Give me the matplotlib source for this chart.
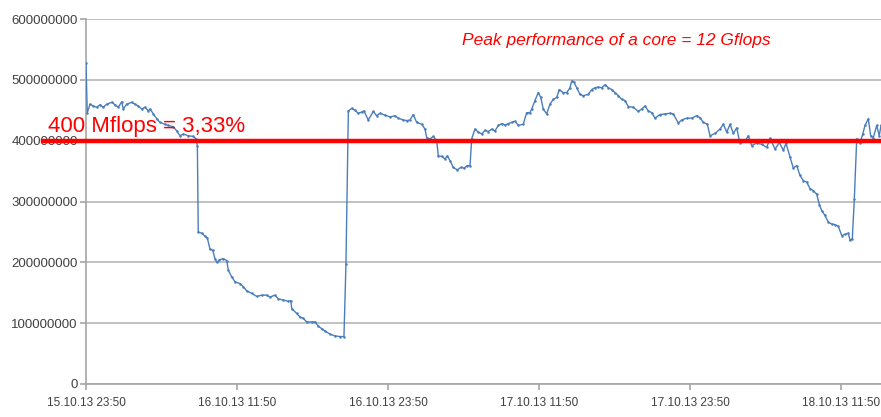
import matplotlib.pyplot as plt
import numpy as np

# hours after 15.10.13 23:50, flops in Mflops
hours = [
    0.00, 0.10, 0.32, 0.58, 0.85, 1.11, 1.37, 1.65, 2.04, 2.30, 2.57, 2.84, 2.96, 3.23,
    3.63, 3.89, 4.16, 4.43, 4.69, 4.95, 5.09, 5.35, 5.62, 5.88, 6.28, 6.54, 6.94, 7.21,
    7.47, 7.73, 8.13, 8.53, 8.74, 8.85,
    8.92, 9.19, 9.46, 9.64, 9.85, 10.07, 10.25, 10.39, 10.59, 10.91, 11.18, 11.31, 11.58,
    11.84, 12.24, 12.50, 12.77, 13.17, 13.57, 13.96, 14.36, 14.62, 15.02, 15.28, 15.68,
    16.08, 16.27, 16.35, 16.74, 17.01, 17.27, 17.54, 17.94, 18.20, 18.46, 18.73, 19.00,
    19.39, 19.79, 20.19, 20.50, 20.66,
    20.85, 21.12, 21.38, 21.64, 21.91, 22.09, 22.43, 22.83, 23.10, 23.36, 23.76, 24.16,
    24.56, 24.82, 25.22, 25.49, 25.75, 26.01, 26.28, 26.68, 26.94, 27.08, 27.34, 27.60,
    27.87, 28.00, 28.27, 28.53, 28.71, 28.93, 29.19, 29.51, 29.78, 30.04, 30.30, 30.52,
    30.65, 30.91, 31.18, 31.45, 31.71, 31.97, 32.24, 32.50, 32.77, 33.04, 33.30, 33.56,
    33.83, 34.09, 34.36, 34.75, 35.02, 35.28, 35.42, 35.68, 35.94, 36.14, 36.34, 36.61,
    36.87, 37.14, 37.41, 37.61, 37.93, 38.20, 38.46, 38.60, 38.78, 39.00, 39.26, 39.52,
    39.92, 40.19, 40.45, 40.71, 40.98, 41.25, 41.51, 41.78, 42.04, 42.30, 42.57,
    42.83, 43.10, 43.49, 43.89, 44.16, 44.42, 44.69, 44.96, 45.22, 45.62, 46.01, 46.41,
    46.67, 47.07, 47.34, 47.74, 48.13, 48.53, 48.79, 49.06, 49.38, 49.59, 49.99, 50.38,
    50.65, 50.92, 51.18, 51.44, 51.71, 51.97, 52.37, 52.63, 52.90, 53.30, 53.70, 54.10,
    54.36, 54.76, 55.10, 55.42, 55.63, 55.95, 56.21, 56.48, 56.74, 57.01, 57.27, 57.54,
    57.80, 58.07, 58.28, 58.47, 58.73, 58.99, 59.26, 59.52, 59.79, 60.06, 60.32, 60.58,
    60.72, 60.90, 61.06, 61.25, 61.51, 61.73, 61.91, 62.17, 62.36, 62.57, 62.84, 63.04,
    63.18,
]
mflops = [
    528, 446, 460, 457, 455, 459, 455, 460, 463, 459, 455, 464, 452, 460,
    463, 460, 457, 452, 455, 449, 452, 444, 436, 430, 427, 425, 423, 416,
    408, 411, 408, 407, 403, 392,
    250, 248, 243, 240, 222, 220, 206, 200, 204, 206, 203, 187, 176,
    168, 165, 160, 153, 149, 144, 146, 146, 143, 146, 140, 138,
    136, 137, 124, 116, 110, 108, 102, 102, 102, 95, 91, 87,
    82, 79, 78, 78, 198,
    449, 453, 450, 445, 447, 449, 434, 448, 441, 445, 442, 439,
    441, 437, 434, 433, 434, 443, 430, 427, 419, 405, 403, 407,
    400, 375, 374, 370, 375, 367, 356, 352, 356, 355, 359, 359,
    403, 419, 414, 411, 417, 415, 419, 416, 425, 428, 426, 428,
    430, 432, 425, 427, 446, 446, 452, 466, 479, 471, 452, 444,
    460, 468, 471, 484, 479, 479, 487, 498, 496, 487, 476, 474,
    476, 484, 487, 488, 487, 492, 487, 484, 479, 474, 468,
    466, 456, 455, 448, 452, 457, 449, 446, 437, 443, 444, 445,
    444, 429, 434, 437, 437, 441, 438, 430, 427, 408, 412, 419,
    427, 414, 427, 412, 421, 396, 399, 408, 392, 396, 394, 389,
    404, 386, 397, 384, 396, 373, 355, 359, 343, 334, 332, 321,
    318, 312, 295, 285, 277, 266, 263, 262, 259, 244, 246, 248,
    236, 239, 304, 403, 396, 411, 425, 436, 408, 405, 425, 408,
    425,
]

tick_hours = [0, 12, 24, 36, 48, 60]
tick_labels = ["15.10.13 23:50", "16.10.13 11:50", "16.10.13 23:50",
               "17.10.13 11:50", "17.10.13 23:50", "18.10.13 11:50"]
y_ticks = [0, 100000000, 200000000, 300000000, 400000000, 500000000, 600000000]

threshold = 400000000
threshold_label = "400 Mflops = 3,33%"
peak_label = "Peak performance of a core = 12 Gflops"

values = np.array(mflops) * 1e6

fig = plt.figure(figsize=(8.81, 4.17), dpi=100)
ax = fig.add_axes([86 / 881, 1 - 384 / 417, 795 / 881, 365 / 417])

ax.plot(hours, values, color="#4a7ebb", lw=1.0, marker="o", ms=1.8,
        markeredgewidth=0, zorder=3)

ax.set_xlim(0, hours[-1])
ax.set_ylim(0, 600000000)
ax.set_yticks(y_ticks)
ax.set_yticklabels([str(v) for v in y_ticks])
ax.set_xticks(tick_hours)
ax.set_xticklabels(tick_labels)

ax.grid(axis="y", color="#bcbcbc", lw=1.3)
ax.set_axisbelow(True)
for s in ["top", "right"]:
    ax.spines[s].set_visible(False)
for s in ["left", "bottom"]:
    ax.spines[s].set_color("#a6a6a6")
    ax.spines[s].set_linewidth(1.2)
ax.tick_params(axis="both", colors="#a6a6a6", length=4, width=1.2,
               labelcolor="#404040")
ax.tick_params(axis="y", labelsize=9.5, pad=2)
ax.tick_params(axis="x", labelsize=8.5, pad=5)
for lab in ax.get_xticklabels() + ax.get_yticklabels():
    lab.set_fontfamily("Liberation Sans")

# red threshold line, reaching past the axis to the left
ax.axhline(threshold, xmin=-0.054, xmax=1, color="#ff0000", lw=3.2,
           clip_on=False, zorder=4)
ax.text(-0.048, threshold + 6000000, threshold_label, transform=ax.get_yaxis_transform(),
        color="#ff0000", fontsize=16, family="Liberation Sans", va="bottom", ha="left",
        zorder=5)
ax.text(0.473, 0.94, peak_label, transform=ax.transAxes, color="#ff0000",
        fontsize=12.5, style="italic", family="Liberation Sans", ha="left", va="center")

fig.savefig("out.png", dpi=100)
